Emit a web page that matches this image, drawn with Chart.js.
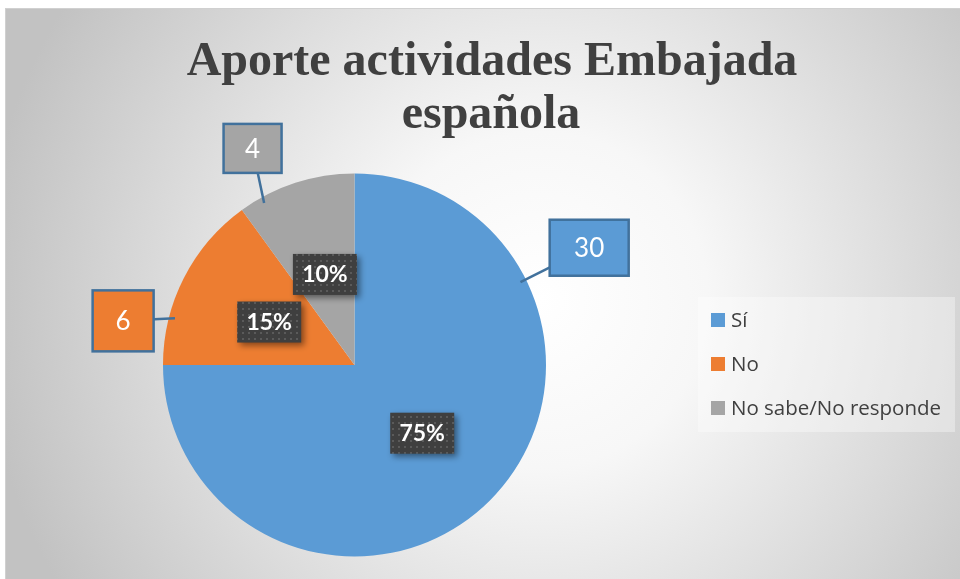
<!DOCTYPE html>
<html>
<head>
<meta charset="utf-8">
<script src="https://cdn.jsdelivr.net/npm/chart.js@4.4.1/dist/chart.umd.min.js"></script>
<style>
  html, body { margin: 0; padding: 0; background: #fff; }
  #grafico { display: block; }
</style>
</head>
<body>
<canvas id="grafico" width="960" height="579"></canvas>
<script>
// Datos del gráfico
const categorias = ['Sí', 'No', 'No sabe/No responde'];
const valores = [30, 6, 4];
const colores = ['#5B9BD5', '#ED7D31', '#A5A5A5'];
const tituloLineas = ['Aporte actividades Embajada', 'española'];

// Posición de las etiquetas de valor (fracción del ángulo dentro de la porción, distancia relativa al radio)
const llamadas = [
  { frac: 0.235, dist: 1.37, linea: 0.235, w: 79, h: 56 },
  { frac: 0.20, dist: 1.23, linea: 0.27, w: 61, h: 61 },
  { frac: 0.30, dist: 1.25, linea: 0.19, w: 58, h: 49 }
];

const fuente = 'Lato, "Open Sans", sans-serif';

// Patrón punteado para las etiquetas de porcentaje
function crearPatron(ctx) {
  const p = document.createElement('canvas');
  p.width = 6; p.height = 6;
  const c = p.getContext('2d');
  c.fillStyle = '#3f3f3f';
  c.fillRect(0, 0, 6, 6);
  c.fillStyle = '#5a5a5a';
  c.fillRect(2, 2, 2, 2);
  return ctx.createPattern(p, 'repeat');
}

// Fondo con degradado
const fondo = {
  id: 'fondo',
  beforeDraw(chart) {
    const ctx = chart.ctx;
    ctx.save();
    ctx.fillStyle = '#fff';
    ctx.fillRect(0, 0, chart.width, chart.height);
    const g = ctx.createRadialGradient(540, 300, 0, 540, 300, 560);
    g.addColorStop(0, '#ffffff');
    g.addColorStop(0.3, '#f7f7f7');
    g.addColorStop(1, '#c2c2c2');
    ctx.fillStyle = g;
    ctx.fillRect(5, 8, 955, 571);
    ctx.strokeStyle = '#d0d0d0';
    ctx.lineWidth = 1;
    ctx.strokeRect(5.5, 8.5, 955, 571);
    ctx.restore();
  }
};

// Título en dos líneas
const titulo = {
  id: 'titulo',
  afterDraw(chart) {
    const ctx = chart.ctx;
    ctx.save();
    ctx.fillStyle = '#404040';
    ctx.textAlign = 'center';
    ctx.textBaseline = 'alphabetic';
    ctx.font = 'bold 48px "Liberation Serif", "Times New Roman", serif';
    ctx.fillText(tituloLineas[0], 492, 75);
    ctx.fillText(tituloLineas[1], 491, 128);
    ctx.restore();
  }
};

// Leyenda a la derecha
const leyenda = {
  id: 'leyenda',
  afterDraw(chart) {
    const ctx = chart.ctx;
    ctx.save();
    ctx.fillStyle = 'rgba(255,255,255,0.35)';
    ctx.fillRect(698, 297, 257, 135);
    ctx.font = '20.5px "Open Sans", sans-serif';
    ctx.textBaseline = 'middle';
    categorias.forEach((cat, i) => {
      const y = 320 + i * 44;
      ctx.fillStyle = colores[i];
      ctx.fillRect(711, y - 7, 14, 14);
      ctx.fillStyle = '#404040';
      ctx.fillText(cat, 731, y + 1);
    });
    ctx.restore();
  }
};

// Etiquetas: llamadas con el valor y porcentajes
const etiquetas = {
  id: 'etiquetas',
  afterDatasetsDraw(chart) {
    const ctx = chart.ctx;
    const meta = chart.getDatasetMeta(0);
    const total = valores.reduce((a, b) => a + b, 0);
    const patron = crearPatron(ctx);
    ctx.save();
    meta.data.forEach((arc, i) => {
      const { x, y, startAngle, endAngle, outerRadius } = arc.getProps(['x', 'y', 'startAngle', 'endAngle', 'outerRadius'], true);
      const L = llamadas[i];

      // porcentaje
      const mid = (startAngle + endAngle) / 2;
      const px = x + Math.cos(mid) * outerRadius / 2;
      const py = y + Math.sin(mid) * outerRadius / 2;
      ctx.save();
      ctx.shadowColor = 'rgba(0,0,0,0.45)';
      ctx.shadowBlur = 6;
      ctx.shadowOffsetX = 3;
      ctx.shadowOffsetY = 3;
      ctx.fillStyle = patron;
      ctx.fillRect(px - 32, py - 20, 64, 41);
      ctx.restore();
      ctx.fillStyle = '#fff';
      ctx.font = 'bold 23px ' + fuente;
      ctx.textAlign = 'center';
      ctx.textBaseline = 'middle';
      ctx.fillText(Math.round(valores[i] / total * 100) + '%', px, py + 1);

      // llamada con el valor
      const a = startAngle + (endAngle - startAngle) * L.frac;
      const bx = x + Math.cos(a) * outerRadius * L.dist;
      const by = y + Math.sin(a) * outerRadius * L.dist;
      const la = startAngle + (endAngle - startAngle) * L.linea;
      const ex = x + Math.cos(la) * (outerRadius - 6);
      const ey = y + Math.sin(la) * (outerRadius - 6);
      ctx.strokeStyle = '#41719C';
      ctx.lineWidth = 2.5;
      ctx.beginPath();
      ctx.moveTo(bx, by);
      ctx.lineTo(ex, ey);
      ctx.stroke();
      ctx.fillStyle = colores[i];
      ctx.fillRect(bx - L.w / 2, by - L.h / 2, L.w, L.h);
      ctx.lineWidth = 2.5;
      ctx.strokeRect(bx - L.w / 2, by - L.h / 2, L.w, L.h);
      ctx.fillStyle = '#fff';
      ctx.font = '26px ' + fuente;
      ctx.fillText(String(valores[i]), bx, by + 1);
    });
    ctx.restore();
  }
};

const ctx = document.getElementById('grafico').getContext('2d');
const grafico = new Chart(ctx, {
  type: 'pie',
  data: {
    labels: categorias,
    datasets: [{
      data: valores,
      backgroundColor: colores,
      borderWidth: 0
    }]
  },
  options: {
    responsive: false,
    animation: false,
    layout: {
      padding: { top: 173, bottom: 22, left: 163, right: 414 }
    },
    plugins: {
      legend: { display: false },
      title: { display: false },
      tooltip: { enabled: false }
    }
  },
  plugins: [fondo, etiquetas, leyenda, titulo]
});
</script>
</body>
</html>
